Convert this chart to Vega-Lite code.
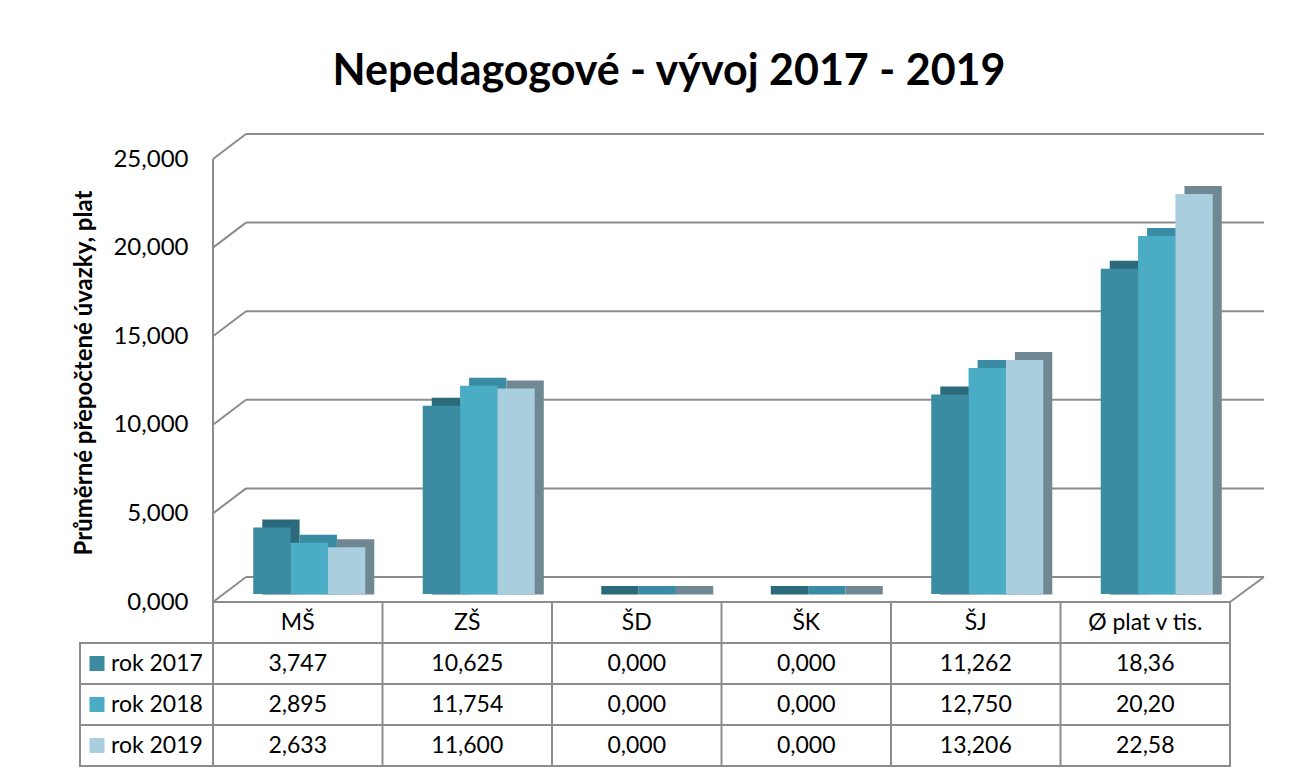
{
  "$schema": "https://vega.github.io/schema/vega-lite/v6.json",
  "background": "white",
  "padding": {"left": 72, "top": 51, "right": 5, "bottom": 5},
  "title": {"text": "Nepedagogové - vývoj 2017 - 2019", "font": "Lato", "fontSize": 43, "fontWeight": "bold", "color": "black", "anchor": "middle", "offset": 39},
  "config": {
    "font": "Lato",
    "view": {"stroke": null},
    "locale": {"number": {"decimal": ",", "thousands": " ", "grouping": [3], "currency": ["", " Kč"]}}
  },
  "datasets": {
    "d": [
      {"cat": "MŠ", "year": "rok 2017", "value": 3.747},
      {"cat": "ZŠ", "year": "rok 2017", "value": 10.625},
      {"cat": "ŠD", "year": "rok 2017", "value": 0},
      {"cat": "ŠK", "year": "rok 2017", "value": 0},
      {"cat": "ŠJ", "year": "rok 2017", "value": 11.262},
      {"cat": "Ø plat v tis.", "year": "rok 2017", "value": 18.36},
      {"cat": "MŠ", "year": "rok 2018", "value": 2.895},
      {"cat": "ZŠ", "year": "rok 2018", "value": 11.754},
      {"cat": "ŠD", "year": "rok 2018", "value": 0},
      {"cat": "ŠK", "year": "rok 2018", "value": 0},
      {"cat": "ŠJ", "year": "rok 2018", "value": 12.75},
      {"cat": "Ø plat v tis.", "year": "rok 2018", "value": 20.2},
      {"cat": "MŠ", "year": "rok 2019", "value": 2.633},
      {"cat": "ZŠ", "year": "rok 2019", "value": 11.6},
      {"cat": "ŠD", "year": "rok 2019", "value": 0},
      {"cat": "ŠK", "year": "rok 2019", "value": 0},
      {"cat": "ŠJ", "year": "rok 2019", "value": 13.206},
      {"cat": "Ø plat v tis.", "year": "rok 2019", "value": 22.58}
    ],
    "ticks": [{"v": 0}, {"v": 5}, {"v": 10}, {"v": 15}, {"v": 20}, {"v": 25}]
  },
  "columns": 2,
  "spacing": {"row": 8, "column": 0},
  "bounds": "flush",
  "align": "each",
  "concat": [
    {
      "width": 133,
      "height": 443,
      "data": {"name": "ticks"},
      "mark": {"type": "rule", "opacity": 0},
      "encoding": {}
    },
    {
      "width": 1017,
      "height": 443,
      "layer": [
        {
          "data": {"name": "ticks"},
          "mark": {"type": "rule", "color": "#8c8c8c", "strokeWidth": 2, "xOffset": 33, "x2Offset": 34, "yOffset": -17, "y2Offset": -17},
          "encoding": {
            "x": {"datum": "MŠ", "type": "nominal", "bandPosition": 0, "axis": null},
            "x2": {"datum": "Ø plat v tis.", "bandPosition": 1},
            "y": {
              "field": "v", "type": "quantitative",
              "scale": {"domain": [0, 25], "nice": false, "zero": true},
              "axis": {
                "values": [0, 5, 10, 15, 20, 25], "format": ".3f",
                "domain": false, "ticks": false, "tickSize": 0, "grid": false,
                "labelOffset": 8, "labelPadding": 25, "labelFont": "Lato", "labelFontSize": 24, "labelColor": "black",
                "title": "Průměrné přepočtené úvazky, plat", "titleFont": "Lato", "titleFontSize": 24, "titleFontWeight": "bold", "titleColor": "black", "titlePadding": 16
              }
            },
            "y2": {"field": "v"}
          }
        },
        {
          "data": {"name": "ticks"},
          "mark": {"type": "rule", "color": "#8c8c8c", "strokeWidth": 2, "xOffset": 0, "x2Offset": 33, "yOffset": 8, "y2Offset": -17},
          "encoding": {
            "x": {"datum": "MŠ", "type": "nominal", "bandPosition": 0},
            "x2": {"datum": "MŠ", "bandPosition": 0},
            "y": {"field": "v", "type": "quantitative"},
            "y2": {"field": "v"}
          }
        },
        {
          "data": {"name": "ticks"},
          "transform": [{"filter": "datum.v == 0"}],
          "mark": {"type": "rule", "color": "#8c8c8c", "strokeWidth": 2, "xOffset": 0, "x2Offset": 34, "yOffset": 8, "y2Offset": -17},
          "encoding": {
            "x": {"datum": "Ø plat v tis.", "type": "nominal", "bandPosition": 1},
            "x2": {"datum": "Ø plat v tis.", "bandPosition": 1},
            "y": {"field": "v", "type": "quantitative"},
            "y2": {"field": "v"}
          }
        },
        {
          "data": {"name": "ticks"},
          "transform": [{"filter": "datum.v == 0"}],
          "mark": {"type": "rule", "color": "#8c8c8c", "strokeWidth": 2, "yOffset": 8, "y2Offset": 8},
          "encoding": {
            "x": {"datum": "MŠ", "type": "nominal", "bandPosition": 0},
            "y": {"field": "v", "type": "quantitative"},
            "y2": {"datum": 25}
          }
        },
        {
          "data": {"name": "d"},
          "mark": {"type": "bar", "yOffset": -8, "y2Offset": 0.5},
          "encoding": {
            "x": {"field": "cat", "type": "nominal", "sort": null, "scale": {"domain": ["MŠ", "ZŠ", "ŠD", "ŠK", "ŠJ", "Ø plat v tis."], "paddingInner": 0, "paddingOuter": 0}},
            "xOffset": {"field": "year", "type": "nominal", "scale": {"paddingInner": 0, "paddingOuter": 0.77, "align": 0.857}},
            "y": {"field": "value", "type": "quantitative"},
            "y2": {"datum": 0},
            "color": {"field": "year", "type": "nominal", "legend": null, "scale": {"domain": ["rok 2017", "rok 2018", "rok 2019"], "range": ["#2B6A7B", "#3A8CA4", "#6F8893"]}}
          }
        },
        {
          "data": {"name": "d"},
          "mark": {"type": "bar"},
          "encoding": {
            "x": {"field": "cat", "type": "nominal", "sort": null},
            "xOffset": {"field": "year", "type": "nominal", "scale": {"paddingInner": 0, "paddingOuter": 0.77, "align": 0.7}},
            "y": {"field": "value", "type": "quantitative"},
            "color": {"field": "year", "type": "nominal", "legend": null, "scale": {"domain": ["rok 2017", "rok 2018", "rok 2019"], "range": ["#3B8BA1", "#4BACC6", "#A9CEDD"]}}
          }
        }
      ],
      "resolve": {"scale": {"xOffset": "independent", "color": "independent"}}
    },
    {
      "width": 133,
      "height": 164,
      "data": {"name": "d"},
      "transform": [{"filter": "datum.cat == 'MŠ'"}],
      "layer": [
        {
          "mark": {"type": "rect", "fill": "white", "stroke": "#8c8c8c", "strokeWidth": 2},
          "encoding": {
            "y": {"field": "year", "type": "nominal", "axis": null, "scale": {"domain": [" ", "rok 2017", "rok 2018", "rok 2019"], "paddingInner": 0, "paddingOuter": 0}}
          }
        },
        {
          "mark": {"type": "point", "shape": "square", "size": 225, "filled": true, "opacity": 1, "xOffset": -49.5},
          "encoding": {
            "y": {"field": "year", "type": "nominal", "axis": null},
            "color": {"field": "year", "type": "nominal", "legend": null, "scale": {"domain": ["rok 2017", "rok 2018", "rok 2019"], "range": ["#3B8BA1", "#4BACC6", "#A9CEDD"]}}
          }
        },
        {
          "mark": {"type": "text", "align": "left", "baseline": "middle", "dx": -35.5, "fontSize": 23, "font": "Lato", "color": "black"},
          "encoding": {
            "y": {"field": "year", "type": "nominal", "axis": null},
            "text": {"field": "year"}
          }
        }
      ]
    },
    {
      "width": 1017,
      "height": 164,
      "view": {"stroke": "#8c8c8c", "strokeWidth": 2},
      "data": {"name": "d"},
      "layer": [
        {
          "transform": [{"filter": "datum.year == 'rok 2017' && datum.cat != 'MŠ'"}],
          "mark": {"type": "rule", "color": "#8c8c8c", "strokeWidth": 2},
          "encoding": {
            "x": {"field": "cat", "type": "nominal", "bandPosition": 0, "axis": null, "sort": null, "scale": {"domain": ["MŠ", "ZŠ", "ŠD", "ŠK", "ŠJ", "Ø plat v tis."], "paddingInner": 0, "paddingOuter": 0}}
          }
        },
        {
          "transform": [{"filter": "datum.cat == 'MŠ'"}],
          "mark": {"type": "rule", "color": "#8c8c8c", "strokeWidth": 2},
          "encoding": {
            "y": {"field": "year", "type": "nominal", "bandPosition": 0, "axis": null, "scale": {"domain": [" ", "rok 2017", "rok 2018", "rok 2019"], "paddingInner": 0, "paddingOuter": 0}}
          }
        },
        {
          "transform": [{"filter": "datum.year == 'rok 2017'"}],
          "mark": {"type": "text", "baseline": "middle", "fontSize": 23, "font": "Lato", "color": "black"},
          "encoding": {
            "x": {"field": "cat", "type": "nominal", "axis": null},
            "y": {"datum": " ", "type": "nominal", "axis": null},
            "text": {"field": "cat"}
          }
        },
        {
          "transform": [{"filter": "datum.cat != 'Ø plat v tis.'"}],
          "mark": {"type": "text", "baseline": "middle", "fontSize": 23, "font": "Lato", "color": "black"},
          "encoding": {
            "x": {"field": "cat", "type": "nominal", "axis": null},
            "y": {"field": "year", "type": "nominal", "axis": null},
            "text": {"field": "value", "type": "quantitative", "format": ".3f"}
          }
        },
        {
          "transform": [{"filter": "datum.cat == 'Ø plat v tis.'"}],
          "mark": {"type": "text", "baseline": "middle", "fontSize": 23, "font": "Lato", "color": "black"},
          "encoding": {
            "x": {"field": "cat", "type": "nominal", "axis": null},
            "y": {"field": "year", "type": "nominal", "axis": null},
            "text": {"field": "value", "type": "quantitative", "format": ".2f"}
          }
        }
      ]
    }
  ]
}
